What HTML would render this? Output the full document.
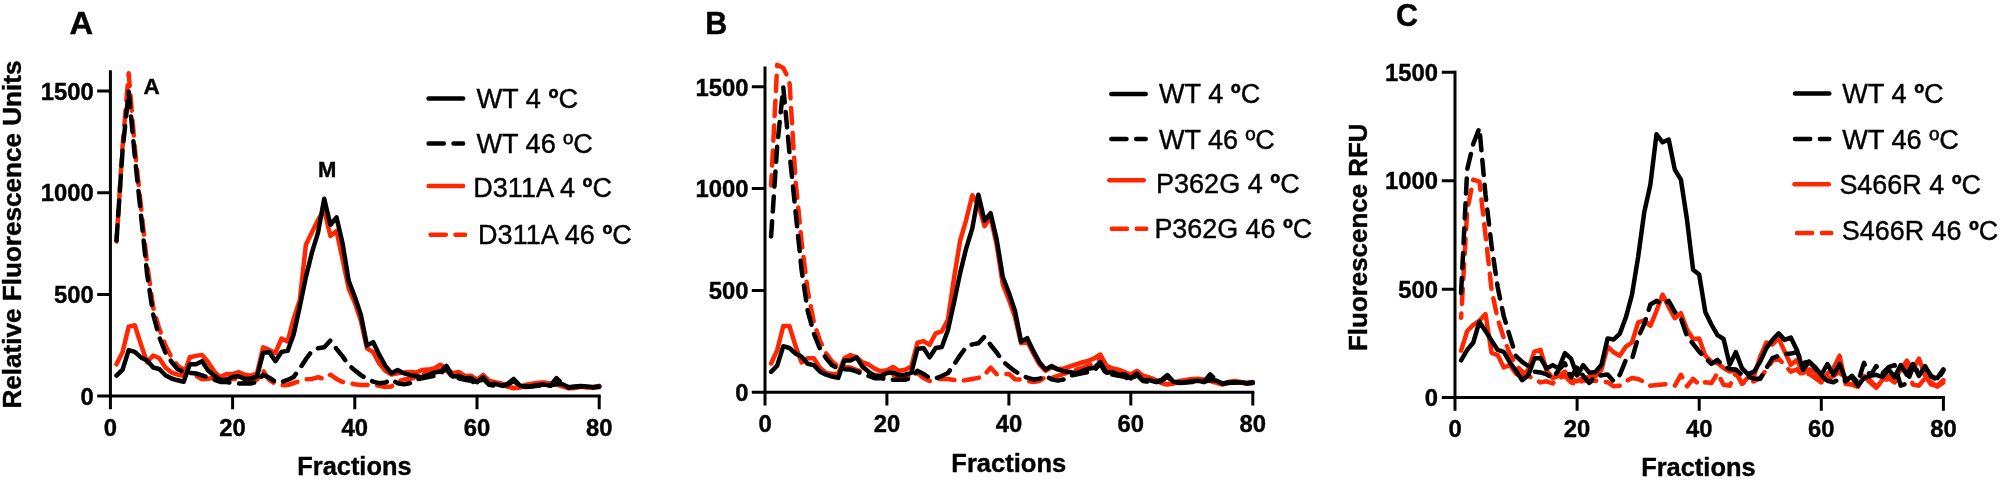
<!DOCTYPE html>
<html lang="en"><head><meta charset="utf-8"><title>Fractions fluorescence profiles</title>
<style>
html,body{margin:0;padding:0;background:#fff;}
body{width:2001px;height:482px;overflow:hidden;}
svg{display:block;filter:blur(0.55px);font-family:"Liberation Sans",sans-serif;}
svg text{fill:#000;stroke:#000;stroke-width:0.4px;}
</style></head><body>
<svg width="2001" height="482" viewBox="0 0 2001 482">
<rect width="2001" height="482" fill="#fff"/>
<polyline points="116.5,241.5 122.6,145.9 128.7,73.2 134.8,148.0 141.0,206.9 147.1,263.9 153.2,307.6 159.3,328.9 165.4,345.2 171.5,357.4 177.6,365.5 183.7,369.6 189.8,372.6 195.9,375.7 202.1,379.3 208.2,378.7 214.3,377.7 220.4,380.8 226.5,378.7 232.6,378.7 238.7,379.7 244.8,380.8 250.9,381.8 257.0,379.7 263.1,370.6 269.3,379.9 275.4,384.0 281.5,385.4 287.6,385.0 293.7,383.0 299.8,381.0 305.9,379.3 312.0,378.9 318.1,377.3 324.2,378.9 330.4,374.7 336.5,378.9 342.6,382.0 348.7,382.8 354.8,384.2 360.9,385.0 367.0,385.0 373.1,384.6 379.2,385.8 385.4,387.1 391.5,386.4 397.6,382.0 403.7,379.5 409.8,379.1 415.9,377.1 422.0,374.5 428.1,373.2 434.2,372.0 440.3,367.1 446.5,370.8 452.6,375.7 458.7,374.5 464.8,377.7 470.9,377.3 477.0,381.4 483.1,376.7 489.2,382.2 495.3,383.8 501.4,384.8 507.6,387.5 513.7,388.3 519.8,387.5 525.9,385.8 532.0,384.8 538.1,383.8 544.2,383.4 550.3,384.2 556.4,385.4 562.5,386.4 568.6,388.3 574.8,387.9 580.9,387.3 587.0,387.5 593.1,387.9 599.2,386.6" fill="none" stroke="#ff2600" stroke-width="4.5" stroke-linecap="round" stroke-linejoin="round" stroke-dasharray="15.2 9.7" stroke-dashoffset="8"/>
<polyline points="116.5,364.3 122.6,351.9 128.7,326.7 134.8,325.3 141.0,344.6 147.1,362.3 153.2,355.5 159.3,358.2 165.4,367.5 171.5,372.6 177.6,374.7 183.7,375.7 189.8,357.2 195.9,355.9 202.1,354.9 208.2,362.3 214.3,371.6 220.4,377.1 226.5,374.0 232.6,374.2 238.7,372.0 244.8,374.7 250.9,375.7 257.0,373.6 263.1,347.2 269.3,349.9 275.4,352.9 281.5,338.5 287.6,341.5 293.7,318.7 299.8,300.0 305.9,244.7 312.0,232.3 318.1,219.7 324.2,210.0 330.4,236.0 336.5,230.9 342.6,259.6 348.7,288.5 354.8,302.5 360.9,321.0 367.0,348.4 373.1,352.1 379.2,363.3 385.4,370.8 391.5,374.5 397.6,373.2 403.7,372.6 409.8,372.0 415.9,372.6 422.0,370.0 428.1,369.6 434.2,368.4 440.3,364.7 446.5,368.4 452.6,373.2 458.7,372.0 464.8,375.9 470.9,375.7 477.0,379.7 483.1,374.9 489.2,380.8 495.3,382.2 501.4,383.4 507.6,386.9 513.7,387.9 519.8,386.9 525.9,384.8 532.0,383.8 538.1,382.8 544.2,382.6 550.3,383.4 556.4,384.8 562.5,385.8 568.6,387.9 574.8,387.5 580.9,386.9 587.0,387.1 593.1,387.5 599.2,385.8" fill="none" stroke="#ff2600" stroke-width="4.5" stroke-linecap="round" stroke-linejoin="round"/>
<polyline points="116.5,240.5 122.6,150.0 128.7,91.7 134.8,156.1 141.0,215.1 147.1,274.0 153.2,314.7 159.3,337.2 165.4,352.5 171.5,361.8 177.6,369.2 183.7,372.2 189.8,373.0 195.9,373.4 202.1,375.3 208.2,377.7 214.3,379.7 220.4,382.0 226.5,382.0 232.6,383.0 238.7,383.6 244.8,383.6 250.9,383.6 257.0,381.8 263.1,374.7 269.3,377.7 275.4,382.0 281.5,382.0 287.6,379.9 293.7,376.9 299.8,368.6 305.9,359.2 312.0,350.9 318.1,348.2 324.2,347.2 330.4,340.5 336.5,348.8 342.6,356.4 348.7,365.1 354.8,370.4 360.9,375.1 367.0,378.9 373.1,381.6 379.2,383.2 385.4,382.6 391.5,379.5 397.6,383.2 403.7,384.4 409.8,383.2 415.9,379.5 422.0,378.3 428.1,377.1 434.2,375.9 440.3,374.0 446.5,367.5 452.6,378.3 458.7,378.3 464.8,379.7 470.9,380.8 477.0,383.8 483.1,378.7 489.2,384.8 495.3,385.8 501.4,386.2 507.6,384.8 513.7,380.8 519.8,386.2 525.9,386.9 532.0,386.4 538.1,385.8 544.2,385.4 550.3,385.8 556.4,378.1 562.5,383.8 568.6,387.5 574.8,386.9 580.9,386.4 587.0,386.9 593.1,387.3 599.2,386.9" fill="none" stroke="#000" stroke-width="4.5" stroke-linecap="round" stroke-linejoin="round" stroke-dasharray="15.2 9.7" stroke-dashoffset="0"/>
<polyline points="116.5,375.7 122.6,369.6 128.7,350.1 134.8,351.9 141.0,357.4 147.1,360.6 153.2,367.5 159.3,369.0 165.4,375.3 171.5,378.5 177.6,380.3 183.7,381.8 189.8,364.3 195.9,364.3 202.1,361.2 208.2,370.6 214.3,375.7 220.4,379.9 226.5,379.9 232.6,376.9 238.7,376.3 244.8,378.9 250.9,378.5 257.0,376.7 263.1,352.9 269.3,351.9 275.4,361.2 281.5,351.9 287.6,350.9 293.7,334.2 299.8,306.5 305.9,277.1 312.0,252.3 318.1,232.3 324.2,198.8 330.4,224.8 336.5,217.3 342.6,243.5 348.7,280.9 354.8,296.8 360.9,314.9 367.0,345.6 373.1,342.1 379.2,354.7 385.4,365.9 391.5,373.2 397.6,370.0 403.7,373.2 409.8,375.1 415.9,375.9 422.0,377.1 428.1,375.1 434.2,372.6 440.3,371.6 446.5,365.9 452.6,376.5 458.7,375.9 464.8,378.3 470.9,378.1 477.0,382.2 483.1,377.3 489.2,384.2 495.3,383.8 501.4,385.6 507.6,383.8 513.7,378.9 519.8,385.6 525.9,386.4 532.0,386.0 538.1,385.0 544.2,384.6 550.3,385.6 556.4,383.8 562.5,384.2 568.6,387.3 574.8,386.4 580.9,386.0 587.0,386.4 593.1,386.9 599.2,386.4" fill="none" stroke="#000" stroke-width="4.5" stroke-linecap="round" stroke-linejoin="round"/>
<path d="M110.4,70.3 V409.2 M97.2,396.0 H600.7" stroke="#000" stroke-width="3.0" fill="none"/>
<path d="M97.2,294.4 H110.4 M97.2,192.7 H110.4 M97.2,91.1 H110.4 M232.6,396.0 V409.2 M354.8,396.0 V409.2 M477.0,396.0 V409.2 M599.2,396.0 V409.2 " stroke="#000" stroke-width="3.0" fill="none"/>
<text x="93.8" y="404.7" font-size="23.8" font-weight="bold" text-anchor="end">0</text>
<text x="93.8" y="303.1" font-size="23.8" font-weight="bold" text-anchor="end">500</text>
<text x="93.8" y="201.4" font-size="23.8" font-weight="bold" text-anchor="end">1000</text>
<text x="93.8" y="99.8" font-size="23.8" font-weight="bold" text-anchor="end">1500</text>
<text x="110.4" y="435.6" font-size="23.8" font-weight="bold" text-anchor="middle">0</text>
<text x="232.6" y="435.6" font-size="23.8" font-weight="bold" text-anchor="middle">20</text>
<text x="354.8" y="435.6" font-size="23.8" font-weight="bold" text-anchor="middle">40</text>
<text x="477.0" y="435.6" font-size="23.8" font-weight="bold" text-anchor="middle">60</text>
<text x="599.2" y="435.6" font-size="23.8" font-weight="bold" text-anchor="middle">80</text>
<text x="69.6" y="34.2" font-size="30.5" font-weight="bold" text-anchor="start" textLength="23.6" lengthAdjust="spacingAndGlyphs">A</text>
<text x="143.6" y="94.0" font-size="22.5" font-weight="bold" text-anchor="start">A</text>
<text x="317.9" y="177.0" font-size="22" font-weight="bold" text-anchor="start">M</text>
<text x="354.4" y="475.2" font-size="25.5" font-weight="bold" text-anchor="middle" textLength="114.2" lengthAdjust="spacingAndGlyphs">Fractions</text>
<text x="20.9" y="234.5" font-size="26" font-weight="bold" text-anchor="middle" textLength="348.0" lengthAdjust="spacingAndGlyphs" transform="rotate(-90 20.9 234.5)">Relative Fluorescence Units</text>
<line x1="428.6" y1="98.4" x2="463.1" y2="98.4" stroke="#000" stroke-width="4.5" stroke-linecap="round"/>
<text x="476.4" y="107.6" font-size="27" font-weight="normal" text-anchor="start" textLength="101.8" lengthAdjust="spacingAndGlyphs">WT 4 <tspan font-weight="bold">º</tspan>C</text>
<line x1="428.6" y1="143.5" x2="463.1" y2="143.5" stroke="#000" stroke-width="4.5" stroke-linecap="round" stroke-dasharray="15.2 9.7"/>
<text x="476.4" y="153.4" font-size="27" font-weight="normal" text-anchor="start" textLength="116.4" lengthAdjust="spacingAndGlyphs">WT 46 ºC</text>
<line x1="428.6" y1="185.9" x2="463.1" y2="185.9" stroke="#ff2600" stroke-width="4.5" stroke-linecap="round"/>
<text x="473.3" y="197.3" font-size="27" font-weight="normal" text-anchor="start" textLength="138.7" lengthAdjust="spacingAndGlyphs">D311A 4 <tspan font-weight="bold">º</tspan>C</text>
<line x1="430.6" y1="234.7" x2="465.1" y2="234.7" stroke="#ff2600" stroke-width="4.5" stroke-linecap="round" stroke-dasharray="15.2 9.7"/>
<text x="478.1" y="244.0" font-size="27" font-weight="normal" text-anchor="start" textLength="153.7" lengthAdjust="spacingAndGlyphs">D311A 46 <tspan font-weight="bold">º</tspan>C</text>
<polyline points="771.1,185.5 777.2,64.8 783.3,68.1 789.4,80.3 795.5,180.5 801.6,241.5 807.7,290.4 813.8,322.0 819.9,340.7 826.0,353.1 832.1,361.5 838.2,366.5 844.3,366.8 850.4,367.6 856.5,369.8 862.6,371.8 868.6,372.9 874.7,374.9 880.8,375.9 886.9,375.9 893.0,374.9 899.1,376.9 905.2,377.5 911.3,375.9 917.4,372.9 923.5,377.9 929.6,381.0 935.7,379.0 941.8,379.0 947.9,379.0 954.0,380.0 960.1,381.0 966.2,380.0 972.3,379.0 978.4,377.9 984.5,374.9 990.6,367.6 996.7,374.3 1002.8,373.9 1008.9,373.9 1015.0,379.2 1021.1,379.6 1027.2,380.8 1033.3,382.0 1039.4,381.0 1045.5,376.9 1051.6,377.9 1057.7,375.9 1063.8,373.9 1069.8,371.8 1075.9,369.8 1082.0,367.8 1088.1,365.7 1094.2,362.7 1100.3,359.6 1106.4,369.8 1112.5,371.8 1118.6,372.9 1124.7,374.9 1130.8,376.9 1136.9,373.9 1143.0,377.9 1149.1,379.6 1155.2,381.0 1161.3,383.6 1167.4,384.5 1173.5,383.6 1179.6,382.0 1185.7,381.0 1191.8,380.0 1197.9,379.6 1204.0,380.4 1210.1,381.6 1216.2,382.6 1222.3,384.5 1228.4,382.8 1234.5,382.0 1240.6,382.8 1246.7,383.6 1252.8,382.8" fill="none" stroke="#ff2600" stroke-width="4.5" stroke-linecap="round" stroke-linejoin="round" stroke-dasharray="15.2 9.7" stroke-dashoffset="5"/>
<polyline points="771.1,363.5 777.2,350.1 783.3,326.0 789.4,326.0 795.5,345.8 801.6,362.5 807.7,358.2 813.8,358.2 819.9,367.6 826.0,372.9 832.1,373.9 838.2,373.9 844.3,358.2 850.4,355.1 856.5,357.2 862.6,362.5 868.6,364.5 874.7,368.6 880.8,371.2 886.9,370.2 893.0,367.0 899.1,370.8 905.2,369.8 911.3,366.5 917.4,342.7 923.5,341.1 929.6,344.8 935.7,333.4 941.8,331.3 947.9,319.9 954.0,278.2 960.1,240.9 966.2,219.8 972.3,195.3 978.4,204.9 984.5,226.1 990.6,217.3 996.7,244.8 1002.8,284.5 1008.9,299.6 1015.0,317.3 1021.1,343.3 1027.2,341.3 1033.3,353.5 1039.4,364.5 1045.5,370.8 1051.6,367.0 1057.7,369.0 1063.8,368.4 1069.8,366.5 1075.9,364.5 1082.0,362.5 1088.1,360.8 1094.2,358.4 1100.3,354.5 1106.4,365.7 1112.5,368.4 1118.6,369.6 1124.7,372.0 1130.8,374.5 1136.9,370.8 1143.0,375.7 1149.1,377.5 1155.2,379.6 1161.3,383.0 1167.4,384.1 1173.5,383.0 1179.6,381.0 1185.7,380.0 1191.8,379.0 1197.9,378.8 1204.0,379.6 1210.1,381.0 1216.2,382.0 1222.3,384.1 1228.4,382.0 1234.5,381.0 1240.6,382.0 1246.7,383.0 1252.8,382.0" fill="none" stroke="#ff2600" stroke-width="4.5" stroke-linecap="round" stroke-linejoin="round"/>
<polyline points="771.1,236.4 777.2,145.8 783.3,87.4 789.4,152.0 795.5,211.0 801.6,270.0 807.7,310.8 813.8,333.4 819.9,348.6 826.0,358.0 832.1,365.3 838.2,368.4 844.3,369.2 850.4,369.6 856.5,371.4 862.6,373.9 868.6,375.9 874.7,378.2 880.8,378.2 886.9,379.2 893.0,379.8 899.1,379.8 905.2,379.8 911.3,377.9 917.4,370.8 923.5,373.9 929.6,378.2 935.7,378.2 941.8,376.1 947.9,373.1 954.0,364.7 960.1,355.3 966.2,347.0 972.3,344.4 978.4,343.3 984.5,336.6 990.6,345.0 996.7,352.5 1002.8,361.3 1008.9,366.5 1015.0,371.2 1021.1,375.1 1027.2,377.7 1033.3,379.4 1039.4,378.8 1045.5,375.7 1051.6,379.4 1057.7,380.6 1063.8,379.4 1069.8,375.7 1075.9,374.5 1082.0,373.3 1088.1,372.0 1094.2,370.2 1100.3,363.7 1106.4,374.5 1112.5,374.5 1118.6,375.9 1124.7,376.9 1130.8,380.0 1136.9,374.9 1143.0,381.0 1149.1,382.0 1155.2,382.4 1161.3,381.0 1167.4,376.9 1173.5,382.4 1179.6,383.0 1185.7,382.6 1191.8,382.0 1197.9,381.6 1204.0,382.0 1210.1,374.3 1216.2,380.0 1222.3,383.6 1228.4,383.0 1234.5,382.6 1240.6,383.0 1246.7,383.4 1252.8,383.0" fill="none" stroke="#000" stroke-width="4.5" stroke-linecap="round" stroke-linejoin="round" stroke-dasharray="15.2 9.7" stroke-dashoffset="0"/>
<polyline points="771.1,371.8 777.2,365.7 783.3,346.2 789.4,348.0 795.5,353.5 801.6,356.8 807.7,363.7 813.8,365.1 819.9,371.4 826.0,374.7 832.1,376.5 838.2,377.9 844.3,360.4 850.4,360.4 856.5,357.4 862.6,366.8 868.6,371.8 874.7,376.1 880.8,376.1 886.9,373.1 893.0,372.5 899.1,375.1 905.2,374.7 911.3,372.9 917.4,349.0 923.5,348.0 929.6,357.4 935.7,348.0 941.8,347.0 947.9,330.3 954.0,302.6 960.1,273.1 966.2,248.3 972.3,228.3 978.4,194.7 984.5,220.8 990.6,213.2 996.7,239.5 1002.8,277.0 1008.9,292.8 1015.0,311.0 1021.1,341.7 1027.2,338.2 1033.3,350.9 1039.4,362.1 1045.5,369.4 1051.6,366.1 1057.7,369.4 1063.8,371.2 1069.8,372.0 1075.9,373.3 1082.0,371.2 1088.1,368.8 1094.2,367.8 1100.3,362.1 1106.4,372.7 1112.5,372.0 1118.6,374.5 1124.7,374.3 1130.8,378.4 1136.9,373.5 1143.0,380.4 1149.1,380.0 1155.2,381.8 1161.3,380.0 1167.4,375.1 1173.5,381.8 1179.6,382.6 1185.7,382.2 1191.8,381.2 1197.9,380.8 1204.0,381.8 1210.1,380.0 1216.2,380.4 1222.3,383.4 1228.4,382.6 1234.5,382.2 1240.6,382.6 1246.7,383.0 1252.8,382.6" fill="none" stroke="#000" stroke-width="4.5" stroke-linecap="round" stroke-linejoin="round"/>
<path d="M765.0,66.6 V405.4 M751.8,392.2 H1254.3" stroke="#000" stroke-width="3.0" fill="none"/>
<path d="M751.8,290.4 H765.0 M751.8,188.6 H765.0 M751.8,86.8 H765.0 M886.9,392.2 V405.4 M1008.9,392.2 V405.4 M1130.8,392.2 V405.4 M1252.8,392.2 V405.4 " stroke="#000" stroke-width="3.0" fill="none"/>
<text x="748.5" y="400.9" font-size="23.8" font-weight="bold" text-anchor="end">0</text>
<text x="748.5" y="299.1" font-size="23.8" font-weight="bold" text-anchor="end">500</text>
<text x="748.5" y="197.3" font-size="23.8" font-weight="bold" text-anchor="end">1000</text>
<text x="748.5" y="95.5" font-size="23.8" font-weight="bold" text-anchor="end">1500</text>
<text x="765.0" y="431.8" font-size="23.8" font-weight="bold" text-anchor="middle">0</text>
<text x="886.9" y="431.8" font-size="23.8" font-weight="bold" text-anchor="middle">20</text>
<text x="1008.9" y="431.8" font-size="23.8" font-weight="bold" text-anchor="middle">40</text>
<text x="1130.8" y="431.8" font-size="23.8" font-weight="bold" text-anchor="middle">60</text>
<text x="1252.8" y="431.8" font-size="23.8" font-weight="bold" text-anchor="middle">80</text>
<text x="705.2" y="33.6" font-size="30.5" font-weight="bold" text-anchor="start">B</text>
<text x="1008.8" y="472.0" font-size="25.5" font-weight="bold" text-anchor="middle" textLength="114.9" lengthAdjust="spacingAndGlyphs">Fractions</text>
<line x1="1111.3" y1="93.9" x2="1145.7" y2="93.9" stroke="#000" stroke-width="4.5" stroke-linecap="round"/>
<text x="1158.9" y="103.2" font-size="27" font-weight="normal" text-anchor="start" textLength="101.4" lengthAdjust="spacingAndGlyphs">WT 4 <tspan font-weight="bold">º</tspan>C</text>
<line x1="1111.3" y1="138.9" x2="1145.7" y2="138.9" stroke="#000" stroke-width="4.5" stroke-linecap="round" stroke-dasharray="15.2 9.7"/>
<text x="1158.9" y="149.3" font-size="27" font-weight="normal" text-anchor="start" textLength="115.9" lengthAdjust="spacingAndGlyphs">WT 46 ºC</text>
<line x1="1109.3" y1="180.3" x2="1143.7" y2="180.3" stroke="#ff2600" stroke-width="4.5" stroke-linecap="round"/>
<text x="1156.0" y="193.4" font-size="27" font-weight="normal" text-anchor="start" textLength="143.7" lengthAdjust="spacingAndGlyphs">P362G 4 <tspan font-weight="bold">º</tspan>C</text>
<line x1="1111.8" y1="228.7" x2="1146.2" y2="228.7" stroke="#ff2600" stroke-width="4.5" stroke-linecap="round" stroke-dasharray="15.2 9.7"/>
<text x="1154.4" y="238.4" font-size="27" font-weight="normal" text-anchor="start" textLength="157.8" lengthAdjust="spacingAndGlyphs">P362G 46 <tspan font-weight="bold">º</tspan>C</text>
<polyline points="1461.1,317.8 1467.2,210.4 1473.3,179.6 1479.4,181.6 1485.5,234.9 1491.6,290.0 1497.7,319.1 1503.8,338.0 1509.9,354.2 1516.0,365.1 1522.2,371.6 1528.3,375.9 1534.4,379.2 1540.5,382.4 1546.6,381.3 1552.7,383.5 1558.8,378.1 1564.9,375.9 1571.0,382.4 1577.1,384.6 1583.2,380.2 1589.3,381.3 1595.4,380.7 1601.5,381.3 1607.6,382.2 1613.7,386.3 1619.8,385.7 1625.9,381.3 1632.0,378.1 1638.2,378.9 1644.3,382.2 1650.4,385.7 1656.5,385.0 1662.6,384.4 1668.7,384.2 1674.8,385.7 1680.9,374.8 1687.0,386.3 1693.1,378.9 1699.2,384.8 1705.3,382.2 1711.4,383.1 1717.5,373.1 1723.6,384.8 1729.7,385.7 1735.8,373.1 1741.9,383.1 1748.0,382.4 1754.1,381.3 1760.2,378.1 1766.4,369.4 1772.5,360.7 1778.6,358.6 1784.7,365.1 1790.8,371.6 1796.9,369.4 1803.0,375.9 1809.1,373.7 1815.2,378.1 1821.3,382.4 1827.4,379.2 1833.5,375.9 1839.6,371.6 1845.7,382.4 1851.8,384.6 1857.9,385.7 1864.0,378.1 1870.1,380.2 1876.2,386.8 1882.3,382.4 1888.5,378.1 1894.6,382.4 1900.7,371.6 1906.8,365.1 1912.9,384.6 1919.0,385.7 1925.1,378.1 1931.2,382.4 1937.3,386.8 1943.4,382.4" fill="none" stroke="#ff2600" stroke-width="4.5" stroke-linecap="round" stroke-linejoin="round" stroke-dasharray="15.2 9.7" stroke-dashoffset="11"/>
<polyline points="1461.1,350.7 1467.2,331.0 1473.3,324.9 1479.4,320.8 1485.5,314.1 1491.6,352.9 1497.7,355.1 1503.8,367.5 1509.9,365.1 1516.0,373.7 1522.2,377.0 1528.3,369.4 1534.4,351.6 1540.5,349.9 1546.6,370.5 1552.7,378.1 1558.8,375.9 1564.9,371.6 1571.0,379.2 1577.1,381.3 1583.2,378.1 1589.3,377.0 1595.4,376.3 1601.5,369.8 1607.6,346.6 1613.7,352.3 1619.8,355.7 1625.9,346.6 1632.0,342.5 1638.2,322.3 1644.3,320.4 1650.4,325.8 1656.5,310.8 1662.6,294.6 1668.7,306.9 1674.8,318.2 1680.9,313.2 1687.0,329.5 1693.1,339.0 1699.2,338.6 1705.3,355.7 1711.4,361.6 1717.5,363.1 1723.6,368.1 1729.7,371.6 1735.8,370.5 1741.9,383.9 1748.0,377.2 1754.1,375.9 1760.2,356.6 1766.4,342.5 1772.5,344.5 1778.6,338.2 1784.7,351.6 1790.8,364.8 1796.9,359.9 1803.0,373.1 1809.1,369.4 1815.2,371.6 1821.3,382.2 1827.4,373.7 1833.5,368.1 1839.6,355.7 1845.7,383.9 1851.8,384.6 1857.9,386.8 1864.0,375.9 1870.1,382.4 1876.2,387.8 1882.3,380.2 1888.5,375.9 1894.6,380.2 1900.7,369.4 1906.8,360.7 1912.9,369.4 1919.0,358.6 1925.1,375.9 1931.2,384.6 1937.3,385.7 1943.4,380.2" fill="none" stroke="#ff2600" stroke-width="4.5" stroke-linecap="round" stroke-linejoin="round"/>
<polyline points="1461.1,293.1 1467.2,169.4 1473.3,143.8 1479.4,128.0 1485.5,194.8 1491.6,245.8 1497.7,287.2 1503.8,316.3 1509.9,336.7 1516.0,356.2 1522.2,361.8 1528.3,366.1 1534.4,371.6 1540.5,372.4 1546.6,374.4 1552.7,378.1 1558.8,369.8 1564.9,363.5 1571.0,377.4 1577.1,367.2 1583.2,375.9 1589.3,382.9 1595.4,376.1 1601.5,375.3 1607.6,374.4 1613.7,381.3 1619.8,374.8 1625.9,359.9 1632.0,359.0 1638.2,337.3 1644.3,323.9 1650.4,304.5 1656.5,300.9 1662.6,304.5 1668.7,300.9 1674.8,311.9 1680.9,318.2 1687.0,336.4 1693.1,343.8 1699.2,351.6 1705.3,358.1 1711.4,364.0 1717.5,359.9 1723.6,366.6 1729.7,369.0 1735.8,369.4 1741.9,374.8 1748.0,377.0 1754.1,378.5 1760.2,378.9 1766.4,368.1 1772.5,358.1 1778.6,355.7 1784.7,354.0 1790.8,353.6 1796.9,352.1 1803.0,362.9 1809.1,361.8 1815.2,368.3 1821.3,375.9 1827.4,380.7 1833.5,382.2 1839.6,378.9 1845.7,381.3 1851.8,375.9 1857.9,382.4 1864.0,362.9 1870.1,375.9 1876.2,366.1 1882.3,373.7 1888.5,367.2 1894.6,365.1 1900.7,385.7 1906.8,383.5 1912.9,367.2 1919.0,371.6 1925.1,367.2 1931.2,375.9 1937.3,380.2 1943.4,370.5" fill="none" stroke="#000" stroke-width="4.5" stroke-linecap="round" stroke-linejoin="round" stroke-dasharray="15.2 9.7" stroke-dashoffset="0"/>
<polyline points="1461.1,360.3 1467.2,349.9 1473.3,342.5 1479.4,321.7 1485.5,331.0 1491.6,340.6 1497.7,349.9 1503.8,351.8 1509.9,362.5 1516.0,370.7 1522.2,380.2 1528.3,375.3 1534.4,358.6 1540.5,358.1 1546.6,368.5 1552.7,365.1 1558.8,368.5 1564.9,353.1 1571.0,358.6 1577.1,375.5 1583.2,365.1 1589.3,372.7 1595.4,372.0 1601.5,364.8 1607.6,338.4 1613.7,339.5 1619.8,333.6 1625.9,317.3 1632.0,294.6 1638.2,256.6 1644.3,211.9 1650.4,184.6 1656.5,134.3 1662.6,142.3 1668.7,139.5 1674.8,169.6 1680.9,179.6 1687.0,219.7 1693.1,269.8 1699.2,274.6 1705.3,311.9 1711.4,324.5 1717.5,335.1 1723.6,339.0 1729.7,364.8 1735.8,352.1 1741.9,368.1 1748.0,374.4 1754.1,371.6 1760.2,361.6 1766.4,348.1 1772.5,339.9 1778.6,333.4 1784.7,339.9 1790.8,337.5 1796.9,349.9 1803.0,369.8 1809.1,361.6 1815.2,367.2 1821.3,374.8 1827.4,364.0 1833.5,374.8 1839.6,364.0 1845.7,379.8 1851.8,377.0 1857.9,385.7 1864.0,378.1 1870.1,375.9 1876.2,374.8 1882.3,377.0 1888.5,369.4 1894.6,377.0 1900.7,365.1 1906.8,374.8 1912.9,364.0 1919.0,375.9 1925.1,366.1 1931.2,377.0 1937.3,378.1 1943.4,369.4" fill="none" stroke="#000" stroke-width="4.5" stroke-linecap="round" stroke-linejoin="round"/>
<path d="M1455.0,70.8 V410.8 M1441.8,397.6 H1944.9" stroke="#000" stroke-width="3.0" fill="none"/>
<path d="M1441.8,289.2 H1455.0 M1441.8,180.7 H1455.0 M1441.8,72.2 H1455.0 M1577.1,397.6 V410.8 M1699.2,397.6 V410.8 M1821.3,397.6 V410.8 M1943.4,397.6 V410.8 " stroke="#000" stroke-width="3.0" fill="none"/>
<text x="1437.9" y="406.3" font-size="23.8" font-weight="bold" text-anchor="end">0</text>
<text x="1437.9" y="297.9" font-size="23.8" font-weight="bold" text-anchor="end">500</text>
<text x="1437.9" y="189.4" font-size="23.8" font-weight="bold" text-anchor="end">1000</text>
<text x="1437.9" y="81.0" font-size="23.8" font-weight="bold" text-anchor="end">1500</text>
<text x="1455.0" y="437.2" font-size="23.8" font-weight="bold" text-anchor="middle">0</text>
<text x="1577.1" y="437.2" font-size="23.8" font-weight="bold" text-anchor="middle">20</text>
<text x="1699.2" y="437.2" font-size="23.8" font-weight="bold" text-anchor="middle">40</text>
<text x="1821.3" y="437.2" font-size="23.8" font-weight="bold" text-anchor="middle">60</text>
<text x="1943.4" y="437.2" font-size="23.8" font-weight="bold" text-anchor="middle">80</text>
<text x="1396.0" y="26.1" font-size="30.5" font-weight="bold" text-anchor="start">C</text>
<text x="1698.4" y="476.3" font-size="25.5" font-weight="bold" text-anchor="middle" textLength="114.5" lengthAdjust="spacingAndGlyphs">Fractions</text>
<text x="1366.6" y="237.2" font-size="26" font-weight="bold" text-anchor="middle" textLength="227.5" lengthAdjust="spacingAndGlyphs" transform="rotate(-90 1366.6 237.2)">Fluorescence RFU</text>
<line x1="1795.0" y1="93.6" x2="1829.3" y2="93.6" stroke="#000" stroke-width="4.5" stroke-linecap="round"/>
<text x="1842.2" y="103.2" font-size="27" font-weight="normal" text-anchor="start" textLength="101.5" lengthAdjust="spacingAndGlyphs">WT 4 <tspan font-weight="bold">º</tspan>C</text>
<line x1="1795.0" y1="138.9" x2="1829.3" y2="138.9" stroke="#000" stroke-width="4.5" stroke-linecap="round" stroke-dasharray="15.2 9.7"/>
<text x="1842.2" y="149.2" font-size="27" font-weight="normal" text-anchor="start" textLength="116.6" lengthAdjust="spacingAndGlyphs">WT 46 ºC</text>
<line x1="1794.5" y1="184.2" x2="1828.8" y2="184.2" stroke="#ff2600" stroke-width="4.5" stroke-linecap="round"/>
<text x="1839.4" y="193.6" font-size="27" font-weight="normal" text-anchor="start" textLength="141.6" lengthAdjust="spacingAndGlyphs">S466R 4 <tspan font-weight="bold">º</tspan>C</text>
<line x1="1797.0" y1="233.0" x2="1831.3" y2="233.0" stroke="#ff2600" stroke-width="4.5" stroke-linecap="round" stroke-dasharray="15.2 9.7"/>
<text x="1841.8" y="240.3" font-size="27" font-weight="normal" text-anchor="start" textLength="156.5" lengthAdjust="spacingAndGlyphs">S466R 46 <tspan font-weight="bold">º</tspan>C</text>
</svg>
</body></html>
